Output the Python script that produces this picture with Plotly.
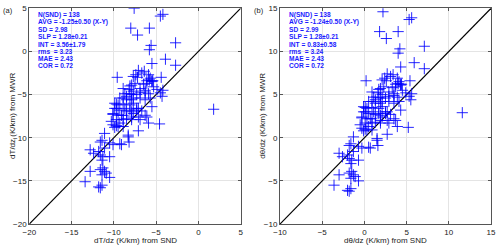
import plotly.graph_objects as go

# ---- data ----
snd_dT = [-7.6,-4.5,-4.2,-8.0,-5.8,-7.2,-2.7,-5.6,-5.8,-3.9,-5.5,-2.7,-9.6,-7.1,-6.7,-6.4,-7.4,-7.2,-5.9,-5.7,
          -6.1,-5.5,-4.4,-7.7,-5.8,-5.4,-7.5,-6.5,-6.1,-5.5,-8.9,-8.2,-7.9,-6.9,-6.3,-5.3,-4.9,-4.2,-4.3,-8.1,
          -7.7,-8.7,-7.9,-7.3,-9.3,-8.5,-7.7,-6.9,-6.3,-5.7,-8.1,-6.9,-6.3,-5.9,-4.5,-8.9,-8.5,-7.9,-5.5,-9.7,
          -8.9,-8.1,-7.7,-7.1,-9.9,-9.5,-9.7,-9.3,-10.1,-9.1,-8.7,-8.1,-7.7,-7.3,-6.7,-9.9,-8.5,-7.9,-7.3,-10.1,
          -9.5,-8.9,-7.9,-6.1,-8.5,-7.9,-7.1,-6.3,-9.7,-8.9,-6.9,-10.1,-9.7,-9.3,-10.3,-8.9,-9.9,-9.5,-5.9,-4.6,
          -7.1,-8.3,-11.1,-11.4,-11.6,-10.5,-10.1,-9.3,-8.3,-8.2,-9.1,-12.8,-12.4,-11.8,-11.1,-10.5,-11.4,-11.3,-11.6,-13.4,
          -12.8,-11.6,-11.3,-11.1,-11.4,-10.9,-10.5,-11.8,-11.4,-11.6,1.8]
mwr_dT = [5.0,4.1,4.3,2.7,2.7,1.9,1.0,0.7,0.2,-0.9,-1.4,-1.6,-3.0,-2.2,-2.5,-2.3,-2.7,-3.0,-2.7,-3.1,
          -3.4,-3.4,-3.0,-2.9,-3.3,-3.4,-3.7,-3.8,-3.7,-3.5,-4.3,-4.4,-3.9,-4.3,-4.5,-4.1,-4.4,-4.5,-5.2,-4.0,
          -4.6,-4.9,-5.0,-5.0,-5.4,-5.6,-5.4,-5.4,-5.6,-5.4,-4.9,-4.8,-4.7,-4.9,-4.8,-5.4,-5.2,-5.6,-6.4,-6.1,
          -6.1,-6.2,-6.0,-6.6,-6.0,-6.2,-6.6,-6.8,-7.2,-7.4,-6.6,-6.8,-7.2,-6.6,-6.9,-6.6,-6.9,-7.0,-6.8,-7.3,
          -7.4,-7.4,-7.6,-7.6,-7.8,-7.9,-7.6,-7.4,-7.9,-7.9,-7.9,-8.5,-8.6,-8.3,-8.1,-8.7,-8.8,-8.7,-8.3,-8.4,
          -9.2,-9.7,-9.5,-10.3,-10.5,-10.6,-10.8,-10.7,-9.9,-10.5,-10.8,-11.4,-11.8,-11.6,-11.2,-12.2,-12.6,-12.2,-12.0,-15.1,
          -13.9,-13.7,-13.5,-13.9,-14.3,-14.1,-14.6,-15.7,-15.5,-15.8,-6.7]

snd_dth = [2.2,5.3,5.6,1.8,4.0,2.6,7.1,4.2,4.0,5.9,4.3,7.1,0.2,2.7,3.1,3.4,2.4,2.6,3.9,4.1,
           3.7,4.3,5.4,2.1,4.0,4.4,2.3,3.3,3.7,4.3,0.9,1.6,1.9,2.9,3.5,4.5,4.9,5.6,5.5,1.7,
           2.1,1.1,1.9,2.5,0.5,1.3,2.1,2.9,3.5,4.1,1.7,2.9,3.5,3.9,5.3,0.9,1.3,1.9,4.3,0.1,
           0.9,1.7,2.1,2.7,-0.1,0.3,0.1,0.5,-0.3,0.7,1.1,1.7,2.1,2.5,3.1,-0.1,1.3,1.9,2.5,-0.3,
           0.3,0.9,1.9,3.7,1.3,1.9,2.7,3.5,0.1,0.9,2.9,-0.3,0.1,0.5,-0.5,0.9,-0.1,0.3,3.9,5.2,
           2.7,1.5,-1.3,-1.6,-1.8,-0.7,-0.3,0.5,1.5,1.6,0.7,-3.0,-2.6,-2.0,-1.3,-0.7,-1.6,-1.5,-1.8,-3.6,
           -3.0,-1.8,-1.5,-1.3,-1.6,-1.1,-0.7,-2.0,-1.6,-1.8,11.6]
mwr_dth = [14.6,13.7,13.9,12.3,12.3,11.5,10.6,10.3,9.8,8.7,8.2,8.0,6.6,7.4,7.1,7.3,6.9,6.6,6.9,6.5,
           6.2,6.2,6.6,6.7,6.3,6.2,5.9,5.8,5.9,6.1,5.3,5.2,5.7,5.3,5.1,5.5,5.2,5.1,4.4,5.6,
           5.0,4.7,4.6,4.6,4.2,4.0,4.2,4.2,4.0,4.2,4.7,4.8,4.9,4.7,4.8,4.2,4.4,4.0,3.2,3.5,
           3.5,3.4,3.6,3.0,3.6,3.4,3.0,2.8,2.4,2.2,3.0,2.8,2.4,3.0,2.7,3.0,2.7,2.6,2.8,2.3,
           2.2,2.2,2.0,2.0,1.8,1.7,2.0,2.2,1.7,1.7,1.7,1.1,1.0,1.3,1.5,0.9,0.8,0.9,1.3,1.2,
           0.4,-0.1,0.1,-0.7,-0.9,-1.0,-1.2,-1.1,-0.3,-0.9,-1.2,-1.8,-2.2,-2.0,-1.6,-2.6,-3.0,-2.6,-2.4,-5.5,
           -4.3,-4.1,-3.9,-4.3,-4.7,-4.5,-5.0,-6.1,-5.9,-6.2,2.9]

range_a = [-20, 5]
range_b = [-10, 15]
ticks_a = [-20, -15, -10, -5, 0, 5]
ticks_b = [-10, -5, 0, 5, 10, 15]

stats_a = ["N(SND) = 138", "AVG = -1.25±0.50 (X-Y)", "SD = 2.98", "SLP = 1.28±0.21",
           "INT = 3.56±1.79", "rms  = 3.23", "MAE = 2.43", "COR = 0.72"]
stats_b = ["N(SND) = 138", "AVG = -1.24±0.50 (X-Y)", "SD = 2.99", "SLP = 1.28±0.21",
           "INT = 0.83±0.58", "rms  = 3.24", "MAE = 2.43", "COR = 0.72"]

xtitle_a = "dT/dz (K/km) from SND"
ytitle_a = "dT/dz (K/km) from MWR"
xtitle_b = "dθ/dz (K/km) from SND"
ytitle_b = "dθ/dz (K/km) from MWR"

FONT = "Liberation Sans, Arial, Helvetica, sans-serif"
W, H = 500, 251

fig = go.Figure()

panels = [
    dict(xs=snd_dT, ys=mwr_dT, rng=range_a, ticks=ticks_a, stats=stats_a, xt=xtitle_a, yt=ytitle_a,
         tag="(a)", xdom=[29.3 / W, 240.7 / W]),
    dict(xs=snd_dth, ys=mwr_dth, rng=range_b, ticks=ticks_b, stats=stats_b, xt=xtitle_b, yt=ytitle_b,
         tag="(b)", xdom=[280.0 / W, 491.0 / W]),
]
ydom = [(H - 224.0) / H, (H - 8.3) / H]

annotations = []
for i, p in enumerate(panels):
    suffix = "" if i == 0 else "2"
    xa, ya = "x" + suffix, "y" + suffix
    fig.add_trace(go.Scatter(x=p["rng"], y=p["rng"], mode="lines",
                             line=dict(color="black", width=1.2),
                             xaxis=xa, yaxis=ya, showlegend=False, hoverinfo="skip"))
    fig.add_trace(go.Scatter(x=p["xs"], y=p["ys"], mode="markers",
                             marker=dict(symbol="cross-thin", size=8,
                                         line=dict(color="rgba(0,0,255,0.85)", width=1)),
                             xaxis=xa, yaxis=ya, showlegend=False))
    axcommon = dict(range=p["rng"], tickvals=p["ticks"], showgrid=True, gridcolor="#e4e4e4",
                    gridwidth=1, zeroline=False, showline=True, linecolor="#555555", linewidth=1,
                    mirror="ticks", ticks="inside", ticklen=3, tickcolor="#555555", automargin=False,
                    tickfont=dict(family=FONT, size=8, color="#222222"))
    fig.update_layout(**{
        "xaxis" + suffix: dict(domain=p["xdom"], anchor=ya, **axcommon),
        "yaxis" + suffix: dict(domain=ydom, anchor=xa, **axcommon),
    })
    xc = (p["xdom"][0] + p["xdom"][1]) / 2
    annotations.append(dict(text=p["xt"], xref="paper", yref="paper", x=xc, y=(H - 240.5) / H,
                            xanchor="center", yanchor="middle", showarrow=False,
                            font=dict(family=FONT, size=8, color="#222222")))
    annotations.append(dict(text=p["yt"], xref="paper", yref="paper",
                            x=(p["xdom"][0] * W - 17.5) / W, y=(ydom[0] + ydom[1]) / 2,
                            xanchor="center", yanchor="middle", textangle=-90, showarrow=False,
                            font=dict(family=FONT, size=8, color="#222222")))
    for k, line in enumerate(p["stats"]):
        annotations.append(dict(text="<b>" + line + "</b>", xref=xa + " domain", yref="paper",
                                x=6.5 / 211.0, y=(H - 15.2 - 7.24 * k) / H,
                                xanchor="left", yanchor="middle", showarrow=False,
                                font=dict(family=FONT, size=6.6, color="#1a1aff")))
    annotations.append(dict(text=p["tag"], xref="paper", yref="paper",
                            x=(p["xdom"][0] * W - 21.5) / W, y=(H - 10.5) / H,
                            xanchor="center", yanchor="middle", showarrow=False,
                            font=dict(family=FONT, size=7.5, color="#222222")))

fig.update_layout(width=W, height=H, margin=dict(l=0, r=0, t=0, b=0),
                  paper_bgcolor="white", plot_bgcolor="white", annotations=annotations)

fig.write_html("out.html", config={"displayModeBar": False},
               post_script="document.body.style.margin='0';document.body.style.overflow='hidden';")
